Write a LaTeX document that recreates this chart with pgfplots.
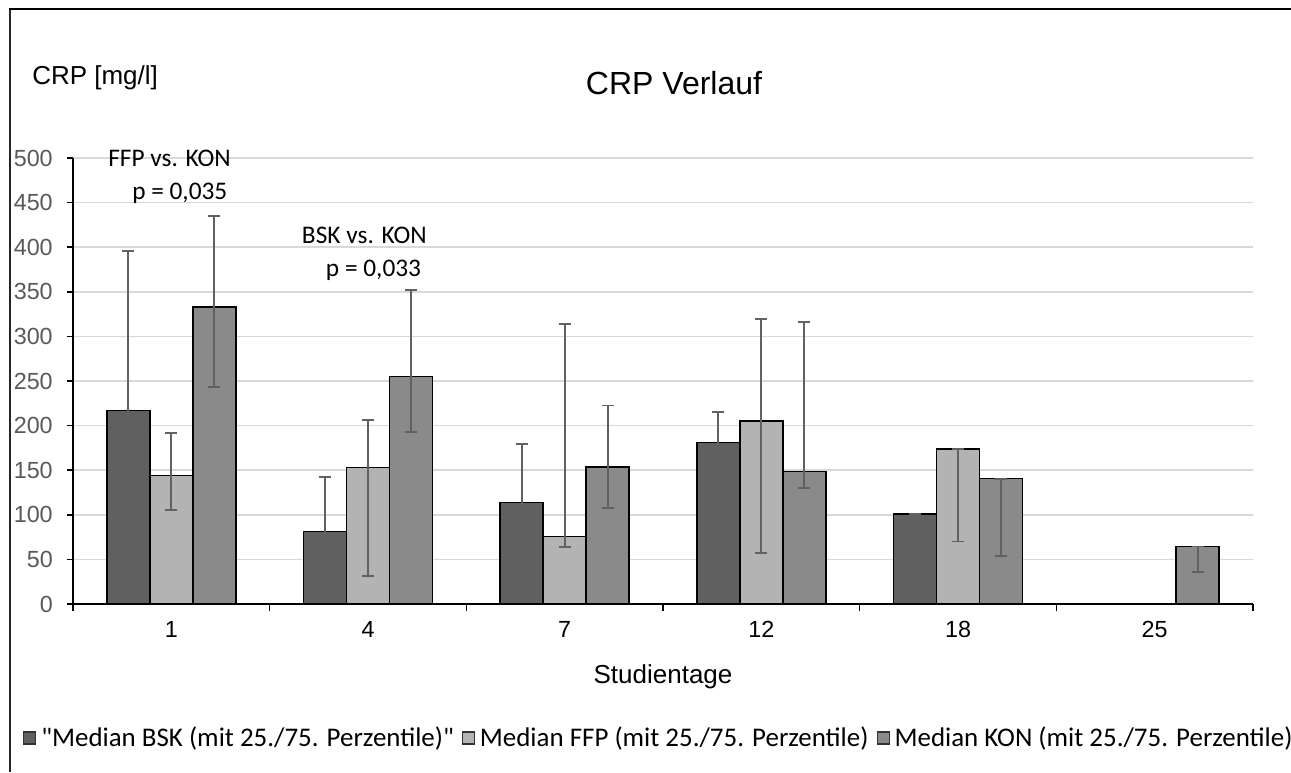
\documentclass[border=0pt]{standalone}
\usepackage{pgfplots}
\pgfplotsset{compat=1.18}
\usepackage{pgfplotstable}
\usepackage{fontspec}
\setmainfont{Liberation Sans}
\newfontfamily\calibri{Carlito}

\definecolor{bsk}{HTML}{606060}
\definecolor{ffp}{HTML}{B3B3B3}
\definecolor{kon}{HTML}{8A8A8A}
\definecolor{errgray}{HTML}{616161}
\definecolor{gridgray}{HTML}{D9D9D9}
\definecolor{ticktext}{HTML}{595959}

% median with 25th / 75th percentile per study day (1=day 1, 2=day 4, ... 6=day 25)
\pgfplotstableread{
pos med p25 p75
1 217   147   396
2 81    30    142.5
3 114   46    179.5
4 181   75    215
5 101   12    101
}\bsk
\pgfplotstableread{
pos med p25 p75
1 144   105.5 191.5
2 153   31.5  206
3 75.5  64    314
4 205   57    319.5
5 174   70    174
}\ffp
\pgfplotstableread{
pos med p25 p75
1 333   243   435
2 255   193   352.5
3 153.5 107.5 222.5
4 148.5 130   316
5 140.5 54    140.5
6 64.5  35.5  64.5
}\kon

\pgfplotsset{
  crpbar/.style={
    draw=black, line width=1.1pt,
    error bars/.cd, y dir=both, y explicit,
    error bar style={line width=1.4pt, errgray},
    error mark options={rotate=90, mark size=4.5pt, line width=1.4pt, errgray},
  },
}

\begin{document}
\begin{tikzpicture}
\path[use as bounding box] (0,0) rectangle (968.25pt,579pt);
% chart area frame
\draw[line width=2pt, black!85] (7.5pt,0) -- (7.5pt,572.25pt);
\draw[line width=0.9pt, black] (6.5pt,572.25pt) -- (968.25pt,572.25pt);

\begin{axis}[
  at={(54.75pt,126pt)}, anchor=south west,
  scale only axis, width=885pt, height=334.5pt,
  xmin=0.5, xmax=6.5, ymin=0, ymax=500,
  ybar=0pt, bar width=32.25pt,
  axis lines*=left,
  axis line style={black, line width=1.1pt},
  xtick={1,2,3,4,5,6}, xticklabels={1,4,7,12,18,25},
  minor xtick={0.5,1.5,2.5,3.5,4.5,5.5,6.5},
  major x tick style={draw=none},
  minor x tick style={black, line width=1.1pt},
  minor tick length=5.25pt,
  ytick={0,50,...,500},
  major y tick style={black, line width=1.1pt},
  major tick length=4.5pt,
  tick align=outside,
  ymajorgrids,
  major grid style={gridgray, line width=1.1pt},
  /pgf/number format/assume math mode=true,
  yticklabel style={font=\fontsize{17.5pt}{20pt}\selectfont, text=ticktext, anchor=east, inner sep=0pt, xshift=-10.5pt},
  xticklabel style={font=\fontsize{17.5pt}{20pt}\selectfont, text=black, anchor=base, inner sep=0pt, yshift=-20.8pt},
  legend columns=3,
  legend style={at={(-0.0424,-0.3004)}, anchor=west, draw=none, fill=none, inner sep=0pt,
    font=\calibri\fontsize{20.2pt}{24pt}\selectfont,
    nodes={inner sep=0pt},
    /tikz/every odd column/.append style={column sep=3.75pt},
    /tikz/every even column/.append style={column sep=6pt}},
  legend image code/.code={\draw[#1, line width=0.8pt, draw=black!80] (0pt,-4.5pt) rectangle (9pt,4.5pt);},
  clip=false,
]
\addplot[fill=bsk, crpbar] table[x=pos, y=med,
  y error plus expr=\thisrow{p75}-\thisrow{med},
  y error minus expr=\thisrow{med}-\thisrow{p25}] {\bsk};
\addlegendentry{"Median BSK (mit 25./75. Perzentile)"}
\addplot[fill=ffp, crpbar] table[x=pos, y=med,
  y error plus expr=\thisrow{p75}-\thisrow{med},
  y error minus expr=\thisrow{med}-\thisrow{p25}] {\ffp};
\addlegendentry{Median FFP (mit 25./75. Perzentile)}
\addplot[fill=kon, crpbar] table[x=pos, y=med,
  y error plus expr=\thisrow{p75}-\thisrow{med},
  y error minus expr=\thisrow{med}-\thisrow{p25}] {\kon};
\addlegendentry{Median KON (mit 25./75. Perzentile)}

% significance notes
\begin{scope}[every node/.style={anchor=base west, inner sep=0pt, font=\calibri\fontsize{19pt}{23pt}\selectfont}]
\node at (axis cs:0.678,490) {FFP vs. KON};
\node at (axis cs:0.800,453) {p = 0,035};
\node at (axis cs:1.663,403.6) {BSK vs. KON};
\node at (axis cs:1.785,367.7) {p = 0,033};
\end{scope}
\end{axis}

\node[anchor=base west, inner sep=0pt, font=\fontsize{19.5pt}{23pt}\selectfont] at (24pt,515.25pt) {CRP [mg/l]};
\node[anchor=base, inner sep=0pt, font=\fontsize{24pt}{28pt}\selectfont] at (505.5pt,507.75pt) {CRP Verlauf};
\node[anchor=base, inner sep=0pt, font=\fontsize{19.5pt}{23pt}\selectfont] at (497.25pt,66.75pt) {Studientage};
\end{tikzpicture}
\end{document}
